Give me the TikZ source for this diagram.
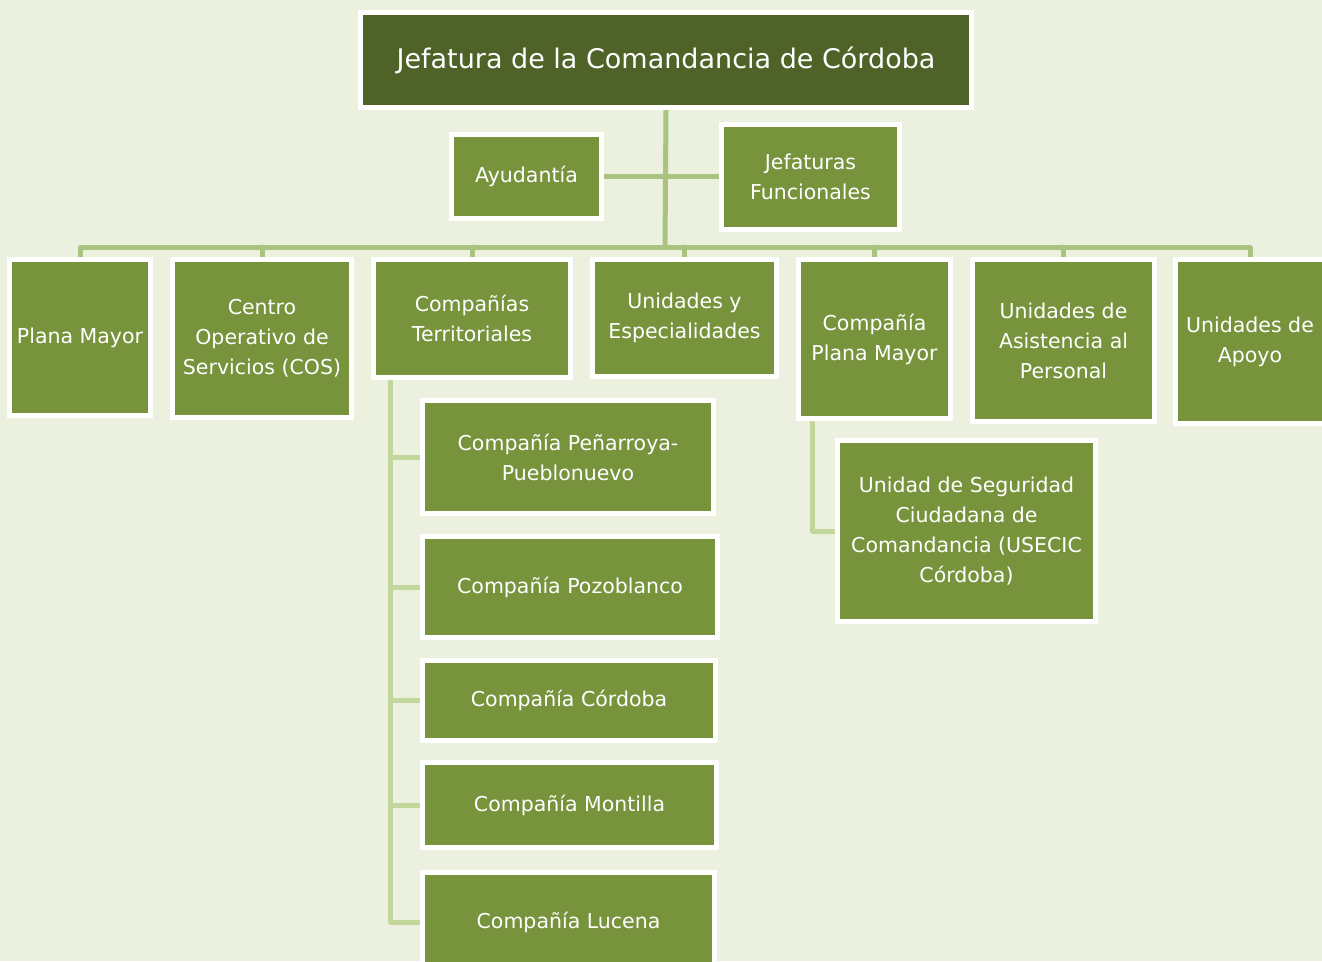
\documentclass[tikz,border=0pt]{standalone}
\usepackage{fontspec}
\setmainfont{DejaVu Sans}
\usetikzlibrary{backgrounds}
\definecolor{bg}{HTML}{EBF1DE}
\definecolor{boxfill}{HTML}{77933C}
\definecolor{topfill}{HTML}{4F6228}
\definecolor{busline}{HTML}{A9C47F}
\definecolor{subline}{HTML}{C3D69B}
\begin{document}
\begin{tikzpicture}[x=1pt,y=-1pt,
  box/.style={draw=white, line width=5pt, fill=boxfill, text=white, align=center, inner sep=0pt, font=\fontsize{20.5}{30}\selectfont},
  topbox/.style={box, fill=topfill, font=\fontsize{27}{32}\selectfont},
  conn/.style={draw=busline, line width=5pt, line join=round, line cap=round},
  subconn/.style={conn, draw=subline}]
\useasboundingbox (0,0) rectangle (1322,961);
% top
\node[topbox, minimum width=611pt, minimum height=95pt] (top) at (666,60) {Jefatura de la Comandancia de Córdoba};
\node[box, minimum width=150pt, minimum height=84pt] (ayud) at (526.5,176.5) {Ayudantía};
\node[box, minimum width=178pt, minimum height=105pt] (jefunc) at (810.5,177) {Jefaturas\\Funcionales};
% level 2
\node[box, minimum width=141pt, minimum height=156pt] (plana) at (80,337.5) {Plana Mayor};
\node[box, minimum width=179pt, minimum height=158pt] (centro) at (262,338.5) {Centro\\Operativo de\\Servicios (COS)};
\node[box, minimum width=197pt, minimum height=118pt] (comter) at (472,318.5) {Compañías\\Territoriales};
\node[box, minimum width=184pt, minimum height=117pt] (unesp) at (684.5,318) {Unidades y\\Especialidades};
\node[box, minimum width=152pt, minimum height=159pt] (cpm) at (874.5,339) {Compañía\\Plana Mayor};
\node[box, minimum width=182pt, minimum height=162pt] (uasist) at (1063.5,340.5) {Unidades de\\Asistencia al\\Personal};
\node[box, minimum width=149pt, minimum height=164pt] (uapoyo) at (1250,341.5) {Unidades de\\Apoyo};
% level 3
\node[box, minimum width=291pt, minimum height=113pt] (pena) at (568,457) {Compañía Peñarroya-\\Pueblonuevo};
\node[box, minimum width=295pt, minimum height=101pt] (pozo) at (570,587) {Compañía Pozoblanco};
\node[box, minimum width=293pt, minimum height=80pt] (cord) at (569,700.5) {Compañía Córdoba};
\node[box, minimum width=294pt, minimum height=85pt] (mont) at (569.5,805) {Compañía Montilla};
\node[box, minimum width=292pt, minimum height=100pt] (luc) at (568.5,922.5) {Compañía Lucena};
\node[box, minimum width=258pt, minimum height=181pt] (usecic) at (966.5,531) {Unidad de Seguridad\\Ciudadana de\\Comandancia (USECIC\\Córdoba)};
\begin{scope}[on background layer]
\fill[bg] (0,0) rectangle (1322,961);
\coordinate (bus) at (665,247);
\draw[conn] (top.south) -- (bus);
\draw[conn] (ayud.east) -- (ayud.east -| jefunc.west);
\draw[conn] (plana.north) |- (bus) -| (uapoyo.north);
\foreach \n in {centro,comter,unesp,cpm,uasist}
  \draw[conn] (\n.north) -- (\n.north |- bus);
\coordinate (ct) at ([xshift=19.5pt]comter.south west);
\draw[subconn] (ct) |- (luc.west);
\foreach \n in {pena,pozo,cord,mont}
  \draw[subconn] (ct |- \n.west) -- (\n.west);
\coordinate (cp) at ([xshift=16.5pt]cpm.south west);
\draw[subconn] (cp) |- (usecic.west);
\end{scope}
\end{tikzpicture}
\end{document}
